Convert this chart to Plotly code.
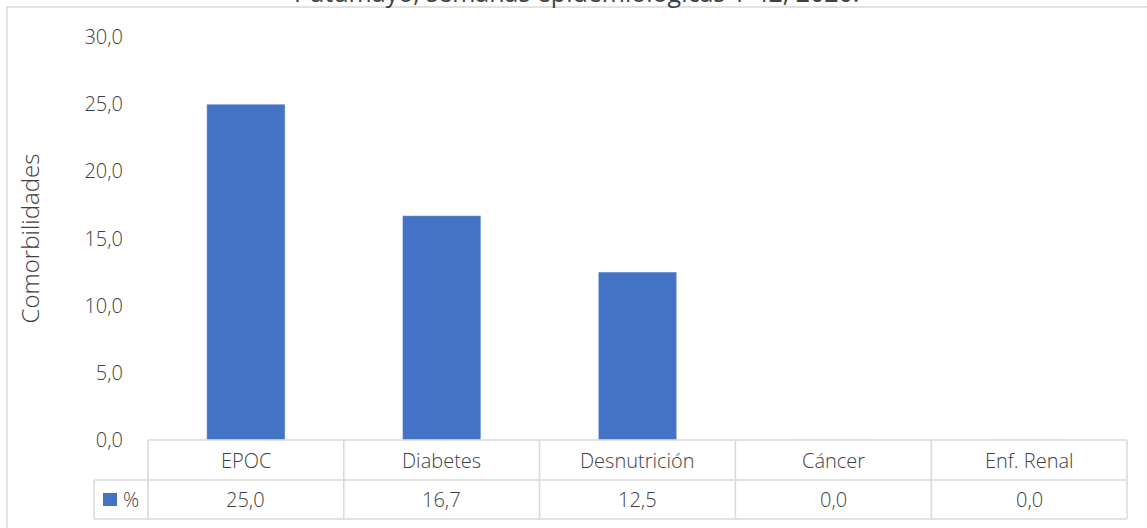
import plotly.graph_objects as go

categories = ["EPOC", "Diabetes", "Desnutrición", "Cáncer", "Enf. Renal"]
values = [25.0, 16.7, 12.5, 0.0, 0.0]
series_name = "%"
title_text = "Putumayo, semanas epidemiológicas 1-42, 2020."
y_title = "Comorbilidades"
y_ticks = [0, 5, 10, 15, 20, 25, 30]

W, H = 1147, 528
ML, MR, MT, MB = 148, 20, 37, 88
PW = W - ML - MR
PH = H - MT - MB

def px_x(px):
    return (px - ML) / PW

def px_y(py):
    return (H - MB - py) / PH

FONT = "Open Sans"
TXT = "#404040"
GRID = "#d9d9d9"
BAR = "#4472C4"
FS = 20

def f(size=FS, weight=300):
    return dict(family=FONT, size=size, color=TXT, weight=weight)

fig = go.Figure()
fig.add_trace(go.Bar(x=categories, y=values, marker_color=BAR, width=0.4,
                     name=series_name, hoverinfo="skip"))

n = len(categories)
shapes = []
annotations = []

row1 = px_y(480)
row2 = px_y(519)
leg_left = px_x(94)
ln = dict(color=GRID, width=1.5)

# outer chart border
shapes.append(dict(type="rect", xref="paper", yref="paper", x0=px_x(7), x1=px_x(1160),
                   y0=px_y(540), y1=px_y(7), fillcolor="rgba(0,0,0,0)", line=ln))
# table horizontal lines
shapes.append(dict(type="line", xref="paper", yref="paper", x0=0, x1=1, y0=0, y1=0, line=ln))
shapes.append(dict(type="line", xref="paper", yref="paper", x0=leg_left, x1=1, y0=row1, y1=row1, line=ln))
shapes.append(dict(type="line", xref="paper", yref="paper", x0=leg_left, x1=1, y0=row2, y1=row2, line=ln))
# vertical lines
for i in range(n + 1):
    shapes.append(dict(type="line", xref="paper", yref="paper", x0=i / n, x1=i / n, y0=0, y1=row2, line=ln))
shapes.append(dict(type="line", xref="paper", yref="paper", x0=leg_left, x1=leg_left, y0=row1, y1=row2, line=ln))
# legend key
shapes.append(dict(type="rect", xref="paper", yref="paper", x0=px_x(103), x1=px_x(117),
                   y0=px_y(506), y1=px_y(493), fillcolor=BAR, line=dict(width=0)))

for c, v in zip(categories, values):
    annotations.append(dict(x=c, xref="x", yref="paper", y=(0 + row1) / 2, yanchor="middle", text=c,
                            showarrow=False, font=f()))
    annotations.append(dict(x=c, xref="x", yref="paper", y=(row1 + row2) / 2, yanchor="middle",
                            text=f"{v:.1f}".replace(".", ","), showarrow=False, font=f()))
annotations.append(dict(x=px_x(121), xref="paper", yref="paper", y=(row1 + row2) / 2, yanchor="middle",
                        text=series_name, xanchor="left", showarrow=False, font=f()))
annotations.append(dict(x=px_x(576), xref="paper", yref="paper", y=px_y(11), yanchor="bottom",
                        text=title_text, showarrow=False, font=f(25, 400)))

fig.update_layout(
    width=W, height=H,
    margin=dict(l=ML, r=MR, t=MT, b=MB),
    paper_bgcolor="white", plot_bgcolor="white",
    separators=",.",
    showlegend=False,
    shapes=shapes,
    annotations=annotations,
    font=f(),
    xaxis=dict(showticklabels=False, showline=False, showgrid=False, zeroline=False,
               range=[-0.5, n - 0.5]),
    yaxis=dict(range=[0, 30], tickvals=y_ticks, tickformat=".1f", showgrid=False, zeroline=False,
               showline=False, ticks="", ticklabelstandoff=24,
               title=dict(text=y_title, standoff=38, font=f(24)),
               tickfont=f()),
)

fig.write_html("out.html", config={"displayModeBar": False},
               post_script="document.body.style.margin='0';document.body.style.overflow='hidden';")
